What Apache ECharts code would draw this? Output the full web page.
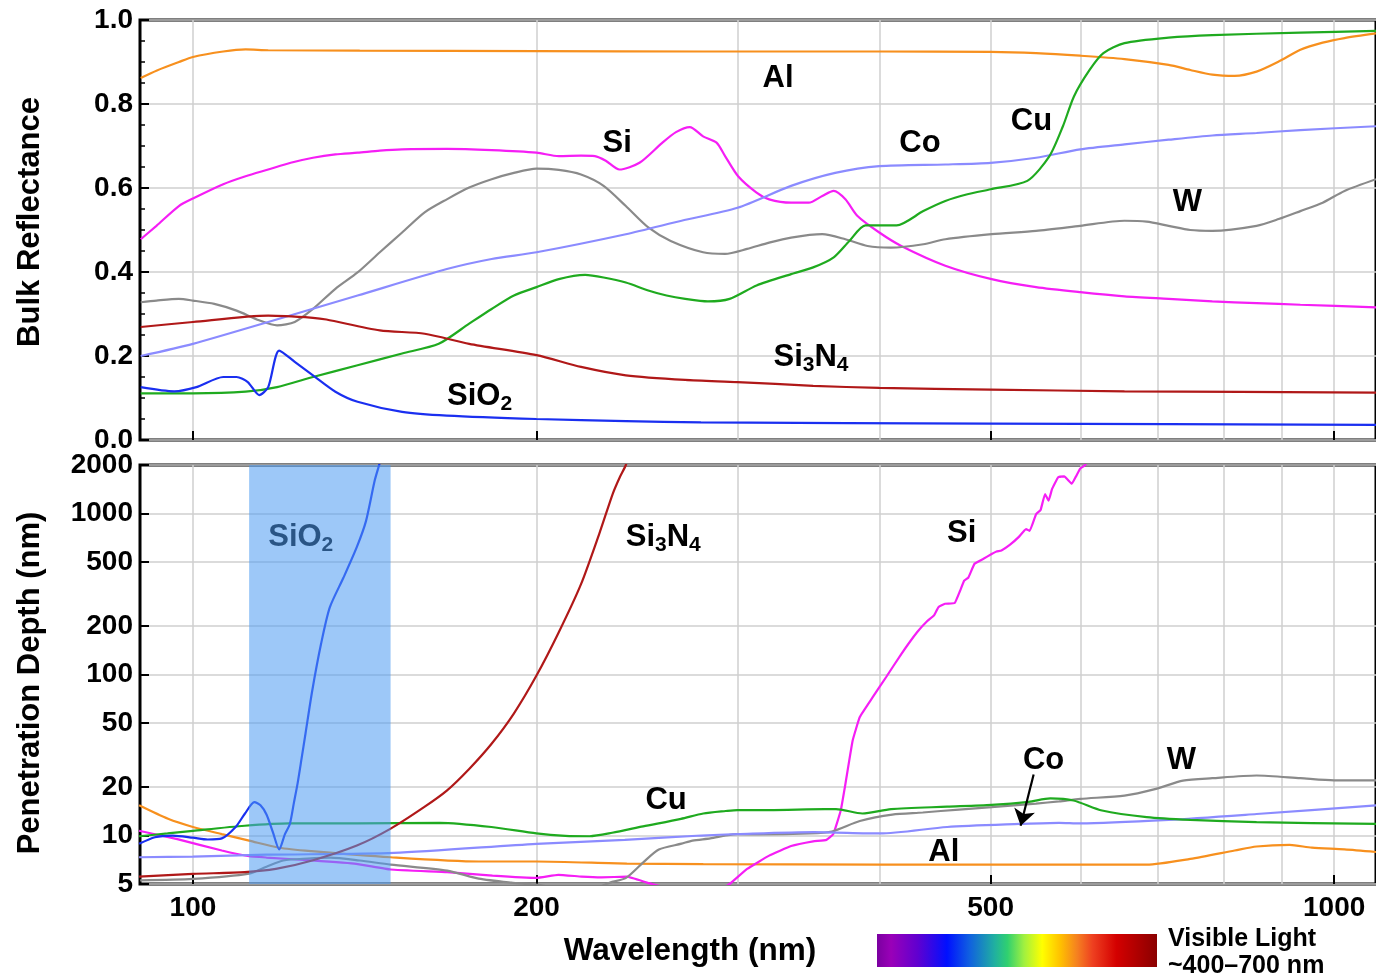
<!DOCTYPE html>
<html><head><meta charset="utf-8">
<script src="https://cdn.jsdelivr.net/npm/echarts@6/dist/echarts.min.js"></script>
<style>html,body{margin:0;padding:0;background:#fff}#c{width:1376px;height:976px}</style>
</head><body><div id="c"></div><script>
// ---------- axes ----------
const X_MIN = 89.87, X_MAX = 1088;
const xGridValues = [100,200,300,400,500,600,700,800,900,1000];
const xTickLabels = [100,200,500,1000];
const yBotTickValues = [5,10,20,50,100,200,500,1000,2000];
const Y_BOT_MIN = 5, Y_BOT_MAX = 2000;
const sio2Band = [112, 149];

// ---------- Bulk reflectance (top) ----------
const alR = [[90,0.862],[93,0.880],[97.2,0.900],[100,0.912],[106.3,0.925],[111.2,0.930],[116.4,0.928],[140,0.927],[200,0.926],[280,0.925],[400,0.925],[500,0.924],[548,0.921],[599,0.915],[655,0.907],[716,0.893],[748,0.881],[782,0.870],[818,0.867],[855,0.877],[894,0.901],[934,0.929],[977,0.946],[1021,0.957],[1088,0.968]];
const siR = [[90,0.478],[92.9,0.51],[97.2,0.557],[100,0.575],[106.3,0.609],[111.2,0.628],[116.4,0.644],[121.8,0.66],[127.4,0.672],[133.3,0.68],[139.4,0.684],[145.8,0.689],[152.5,0.692],[166.9,0.693],[182.7,0.69],[200,0.684],[209.2,0.676],[218.8,0.677],[225,0.676],[230,0.665],[236.4,0.644],[246.2,0.66],[257.6,0.707],[265,0.733],[272.5,0.745],[279.9,0.723],[287.6,0.708],[292.6,0.676],[300.4,0.628],[311.8,0.589],[319.8,0.573],[334.3,0.565],[346.4,0.565],[356,0.581],[364.3,0.593],[373,0.573],[382,0.534],[399.4,0.494],[417.5,0.462],[456.3,0.415],[501,0.383],[548,0.364],[599,0.352],[655,0.342],[716,0.336],[782,0.33],[855,0.326],[934,0.322],[1088,0.316]];
const wR = [[90,0.328],[92.9,0.332],[97.2,0.336],[100,0.332],[104.4,0.324],[109.2,0.308],[114.3,0.285],[118.5,0.273],[122.8,0.281],[127.4,0.312],[133.3,0.36],[139.4,0.399],[145.8,0.447],[152.5,0.494],[159.6,0.542],[166.9,0.573],[174.6,0.601],[182.7,0.621],[191.1,0.636],[200,0.646],[209.2,0.643],[218.8,0.632],[229,0.605],[239.5,0.557],[250.6,0.506],[262.2,0.474],[279.9,0.447],[292.6,0.443],[305.9,0.455],[319.8,0.47],[334.3,0.482],[356,0.49],[373,0.478],[390,0.462],[408.7,0.458],[436.5,0.466],[456.3,0.478],[501,0.49],[548,0.498],[599,0.51],[655,0.522],[685,0.52],[716,0.51],[748,0.5],[782,0.498],[855,0.51],[894,0.526],[934,0.545],[977,0.565],[1021,0.593],[1088,0.621]];
const coR = [[90,0.2],[100,0.229],[116.4,0.281],[139.4,0.344],[166.9,0.407],[182.7,0.431],[200,0.447],[239.5,0.49],[268,0.522],[300,0.553],[334.3,0.605],[365.4,0.636],[399.4,0.652],[456.3,0.656],[500,0.66],[548,0.672],[599,0.692],[655,0.704],[716,0.715],[782,0.725],[855,0.731],[934,0.738],[1088,0.747]];
const cuR = [[90,0.111],[100,0.111],[111.2,0.115],[118.5,0.126],[127.4,0.15],[139.4,0.178],[152.5,0.206],[164.2,0.229],[174.6,0.277],[182.7,0.312],[191.1,0.344],[200,0.364],[209.2,0.383],[220.6,0.393],[229,0.387],[239.5,0.375],[250.6,0.356],[260,0.344],[270,0.336],[282.6,0.330],[295.3,0.336],[311.8,0.368],[334.3,0.395],[349.5,0.411],[364.3,0.435],[376,0.474],[388.4,0.511],[413.6,0.511],[436.5,0.545],[456.3,0.569],[477.1,0.585],[500,0.597],[538.4,0.617],[563,0.676],[578.5,0.747],[591.5,0.818],[610.5,0.881],[627.7,0.921],[655,0.945],[716,0.958],[782,0.964],[934,0.970],[1088,0.974]];
const si3n4R = [[90,0.269],[100,0.281],[116.4,0.296],[127.4,0.291],[130.9,0.287],[145.8,0.261],[159.6,0.253],[174.6,0.229],[200,0.202],[218.8,0.174],[239.5,0.154],[270,0.143],[300,0.138],[349.5,0.129],[399.4,0.124],[500,0.120],[655,0.116],[1088,0.113]];
const sio2R = [[90,0.126],[96.3,0.116],[100.7,0.126],[106.3,0.150],[109.2,0.150],[111.7,0.138],[114.3,0.107],[116.4,0.126],[119,0.213],[122.8,0.186],[127.4,0.154],[133.3,0.115],[139.4,0.091],[152.5,0.067],[166.9,0.058],[200,0.05],[239.5,0.045],[278.7,0.042],[500,0.039],[1088,0.036]];

// ---------- Penetration depth (bottom) ----------
const sio2D = [[89.7,8.88],[92.6,9.76],[96,10.0],[100,9.7],[103,9.45],[106,9.6],[109,11.3],[111,13.6],[113.2,16.1],[114.6,15.4],[116,13.5],[117.5,10.5],[119,8.2],[120.4,10.2],[121.6,11.8],[122.6,16],[123.5,21],[124.5,30],[125.5,43],[127.2,79],[129.5,155],[131.8,261],[135.5,400],[139.2,620],[141.8,900],[144.3,1600],[145.6,2000],[147,2600]];
const si3n4D = [[89.7,5.56],[100,5.78],[111,5.92],[118.2,6.2],[127.2,7.0],[139.2,8.67],[148.9,11],[159.4,15],[166.9,19],[174.6,25.9],[182.6,37],[191,57],[200,98.5],[209.2,183],[218.8,364],[227,748],[233.3,1330],[236.6,1680],[239.5,2000],[242,2600]];
const cuD = [[89.7,9.9],[95,10.3],[100,10.7],[111,11.5],[121.5,11.9],[139.2,11.9],[164.6,12.0],[182.6,11.3],[200,10.3],[212,9.95],[222.6,9.9],[233,10.4],[248,11.4],[267.7,12.7],[280,13.7],[293,14.2],[300,14.4],[320,14.4],[358,14.6],[366,14.6],[386,13.7],[409,14.6],[458,15.1],[501,15.5],[540,16.2],[564,17.0],[591,16.5],[626,14.3],[685,13.0],[748,12.5],[855,12.1],[1088,11.8]];
const alD = [[89.7,15.4],[95.1,12.7],[100,11.3],[106,10.2],[112,9.3],[119,8.4],[127,8.0],[149,7.33],[178,6.9],[200,6.9],[240,6.7],[280,6.65],[400,6.6],[685,6.6],[748,7.16],[818,8.07],[855,8.55],[914,8.75],[956,8.4],[1021,8.2],[1088,7.9]];
const siD = [[89.7,10.7],[96.9,9.5],[106,8.07],[112,7.44],[116,7.3],[127,7.0],[139,6.67],[149,6.15],[167,5.92],[183,5.64],[200,5.46],[209,5.7],[219,5.56],[228,5.5],[240,5.55],[250,5.1],[258,4.8],[270,4.3],[285,4.3],[295.3,5.0],[305.9,6.2],[319.8,7.5],[334.3,8.6],[349.5,9.2],[359,9.4],[364,10.2],[369.5,14.3],[373,20.9],[378.5,38.9],[384,54.4],[394,72],[405,96.5],[417.5,134],[431,183],[440,215],[446,233],[450,262],[456,275],[465,278],[470,330],[474,383],[478,400],[484,487],[492,520],[501,560],[506,580],[511,589],[520,640],[529,713],[537,800],[541,780],[548,990],[553,1050],[558,1320],[562,1200],[566,1420],[573,1680],[580,1700],[589,1530],[594,1700],[599,1900],[605,2000],[612,2300]];
const wD = [[89.9,5.27],[100,5.38],[112,5.8],[116,6.4],[120,7.0],[126,7.2],[132,7.3],[140,7.0],[149,6.6],[167,6.06],[178,5.4],[190,5.1],[200,4.95],[215,4.6],[226,4.75],[232,5.1],[239.6,5.46],[247.8,6.77],[256,8.19],[268,8.9],[274,9.3],[284,9.6],[293,10.0],[300,10.2],[313,10.15],[347,10.3],[363,10.6],[384,12.3],[410,13.5],[436,13.9],[469,14.5],[501,15.0],[548,15.8],[574,16.3],[599,16.9],[655,17.7],[698,19.5],[737,21.9],[782,22.7],[855,23.6],[934,22.7],[1000,22.0],[1088,22.0]];
const coD = [[89.7,7.33],[100,7.4],[116,7.6],[150,7.8],[200,8.88],[239,9.4],[279,10.0],[300,10.2],[350,10.5],[400,10.3],[458,11.3],[530,11.8],[574,12.0],[599,11.9],[716,12.5],[855,13.6],[1088,15.4]];

// ---------- annotations (data coordinates) ----------
const topLabels = [[325.6,0.864,'Al'],[235.4,0.7095,'Si'],[433.5,0.7095,'Co'],[543,0.76,'Cu'],[743.7,0.567,'W'],[348,0.198,'Si3N4'],[178.3,0.105,'SiO2']];
const botLabels = [[124.3,719,'SiO2'],[258.3,719,'Si3N4'],[471.7,762,'Si'],[556.4,29.6,'Co'],[734.7,29.6,'W'],[259.8,16.7,'Cu'],[454.9,7.96,'Al']];
const coArrow = [[545.3,23.9],[531.2,11.5]];

const FONT = '"Liberation Sans", Arial, sans-serif';
const COL = {Al:'#f7901e', Si:'#f51ef5', W:'#8a8a8a', Co:'#8b8bff', Cu:'#1faa1f', Si3N4:'#b01818', SiO2:'#1a2ff0'};

function rich(t){
  return t.match(/[A-Za-z]+|\d+/g).map(s => /\d/.test(s) ? '{s|'+s+'}' : '{b|'+s+'}').join('');
}
const RICH = {
  b:{fontSize:31, lineHeight:32, fontWeight:'bold', fontFamily:FONT, color:'#000', padding:[0,0,4,0]},
  s:{fontSize:21, lineHeight:21, fontWeight:'bold', fontFamily:FONT, color:'#000', verticalAlign:'bottom'}
};
const lbl = {fontSize:28, fontWeight:'bold', color:'#000', fontFamily:FONT};
const gridLine = {show:true, lineStyle:{color:'#cfcfcf', width:1.5}};

function xMain(gi, show){
  return {type:'log', gridIndex:gi, min:X_MIN, max:X_MAX, position:'bottom',
    axisLine:{show:false}, axisTick:{show:false, customValues:xGridValues},
    axisLabel:Object.assign({show:show, customValues:xTickLabels, margin:10, formatter:v=>String(Math.round(v))}, lbl),
    splitLine:gridLine, minorTick:{show:false}, minorSplitLine:{show:false}};
}
function xTicks(gi){
  return {type:'log', gridIndex:gi, min:X_MIN, max:X_MAX, position:'bottom',
    axisLine:{show:false}, axisTick:{show:true, inside:true, length:9, customValues:xTickLabels, lineStyle:{color:'#000', width:2}},
    axisLabel:{show:false}, splitLine:{show:false}};
}
function line(data, name, xi, extra){
  return Object.assign({type:'line', name:name, xAxisIndex:xi, yAxisIndex:xi, data:data, showSymbol:false, symbol:'none',
    smooth:0.25, clip:true, silent:true, z:3, lineStyle:{color:COL[name], width:2.2}}, extra||{});
}
function labels(arr, xi){
  return {type:'scatter', xAxisIndex:xi, yAxisIndex:xi, symbolSize:1, silent:true, z:8,
    itemStyle:{opacity:1, color:'rgba(0,0,0,0)'},
    data:arr.map(a=>({value:[a[0],a[1]], name:a[2]})),
    label:{show:true, position:'inside', offset:[0,3], color:'#000', opacity:1, textBorderWidth:0, formatter:p=>rich(p.name), rich:RICH}};
}

const chart = echarts.init(document.getElementById('c'), null, {renderer:'canvas'});
chart.setOption({
  animation:false,
  backgroundColor:'#fff',
  grid:[
    {left:140, top:20, width:1238, height:420, show:true, borderColor:'#000', borderWidth:3, backgroundColor:'transparent'},
    {left:140, top:465, width:1238, height:419, show:true, borderColor:'#000', borderWidth:3, backgroundColor:'transparent'}
  ],
  xAxis:[xMain(0,false), xMain(1,true), xTicks(0), xTicks(1)],
  yAxis:[
    {type:'value', gridIndex:0, min:0, max:1, interval:0.2,
      axisLine:{show:false}, axisTick:{show:true, inside:true, length:9, lineStyle:{color:'#000', width:2}},
      minorTick:{show:true, splitNumber:4, length:5, lineStyle:{color:'#000', width:1.5}},
      axisLabel:Object.assign({margin:7, formatter:v=>v.toFixed(1)}, lbl), splitLine:gridLine},
    {type:'log', gridIndex:1, min:Y_BOT_MIN, max:Y_BOT_MAX,
      axisLine:{show:false}, axisTick:{show:true, inside:true, length:9, customValues:yBotTickValues, lineStyle:{color:'#000', width:2}},
      axisLabel:Object.assign({margin:7, customValues:yBotTickValues, formatter:v=>String(Math.round(v))}, lbl),
      splitLine:gridLine, minorTick:{show:false}}
  ],
  series:[
    line(alR,'Al',0), line(siR,'Si',0), line(wR,'W',0), line(coR,'Co',0),
    line(cuR,'Cu',0), line(si3n4R,'Si3N4',0), line(sio2R,'SiO2',0),
    line(alD,'Al',1), line(siD,'Si',1,{smooth:0.1}), line(wD,'W',1),
    line(coD,'Co',1,{markLine:{silent:true, symbol:['none','arrow'], symbolSize:16, label:{show:false},
      lineStyle:{color:'#000', width:2.2, type:'solid'}, data:[[{coord:coArrow[0]},{coord:coArrow[1]}]]}}),
    line(cuD,'Cu',1), line(si3n4D,'Si3N4',1), line(sio2D,'SiO2',1),
    labels(topLabels,0), labels(botLabels,1),
    {type:'custom', xAxisIndex:1, yAxisIndex:1, z:20, silent:true, clip:true,
      data:[sio2Band], encode:{x:[0,1]},
      renderItem:function(params, api){
        const p0 = api.coord([api.value(0), Y_BOT_MAX]);
        const p1 = api.coord([api.value(1), Y_BOT_MIN]);
        return {type:'rect', shape:{x:p0[0], y:p0[1], width:p1[0]-p0[0], height:p1[1]-p0[1]},
          style:{fill:'rgba(76,155,242,0.55)'}};
      }}
  ],
  graphic:[
    {type:'text', x:30, y:222, rotation:Math.PI/2, style:{text:'Bulk Reflectance', font:'bold 31px '+FONT, fill:'#000', align:'center', verticalAlign:'middle'}},
    {type:'text', x:30, y:683, rotation:Math.PI/2, style:{text:'Penetration Depth (nm)', font:'bold 31px '+FONT, fill:'#000', align:'center', verticalAlign:'middle'}},
    {type:'text', x:690, y:951, style:{text:'Wavelength (nm)', font:'bold 31.5px '+FONT, fill:'#000', align:'center', verticalAlign:'middle'}},
    {type:'rect', shape:{x:877, y:934, width:280, height:33}, style:{fill:{type:'linear', x:0, y:0, x2:1, y2:0, colorStops:[
      {offset:0, color:'#7a00a0'},{offset:0.05, color:'#9a00b8'},{offset:0.145, color:'#6000d0'},{offset:0.25, color:'#0010ff'},
      {offset:0.33, color:'#1060e0'},{offset:0.42, color:'#20b0a0'},{offset:0.466, color:'#30d070'},{offset:0.525, color:'#a0f040'},
      {offset:0.59, color:'#ffff00'},{offset:0.655, color:'#ffc000'},{offset:0.715, color:'#f58020'},{offset:0.77, color:'#ee4020'},
      {offset:0.855, color:'#d40000'},{offset:1, color:'#8a0000'}]}}},
    {type:'text', x:1168, y:939, style:{text:'Visible Light', font:'bold 25px '+FONT, fill:'#000', align:'left', verticalAlign:'middle'}},
    {type:'text', x:1168, y:966, style:{text:'~400\u2013700 nm', font:'bold 25px '+FONT, fill:'#000', align:'left', verticalAlign:'middle'}}
  ]
});
</script></body></html>
